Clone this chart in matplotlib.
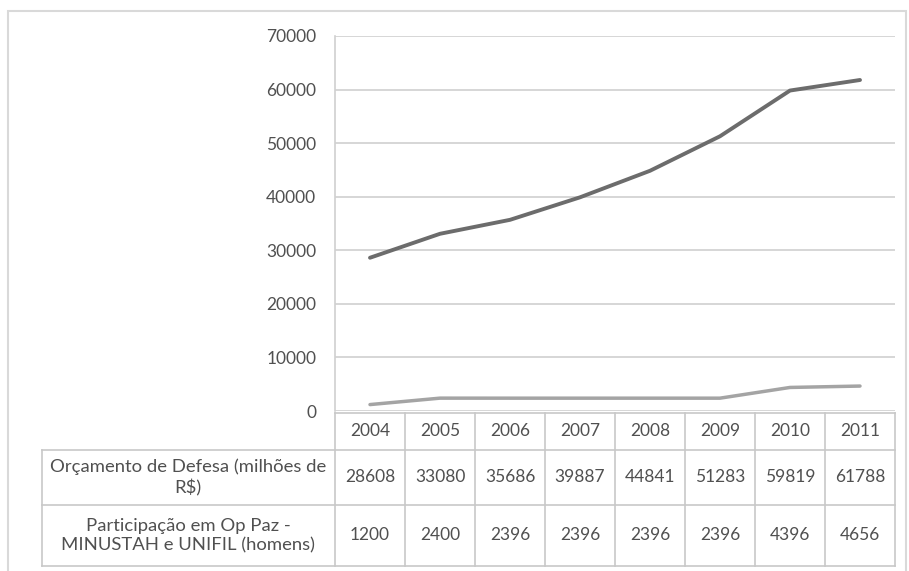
import matplotlib.pyplot as plt
from matplotlib.patches import Rectangle
from matplotlib.transforms import blended_transform_factory

# dados
anos = ['2004', '2005', '2006', '2007', '2008', '2009', '2010', '2011']
orcamento = [28608, 33080, 35686, 39887, 44841, 51283, 59819, 61788]
participacao = [1200, 2400, 2396, 2396, 2396, 2396, 4396, 4656]
rotulos = ['Orçamento de Defesa (milhões de\nR$)',
           'Participação em Op Paz -\nMINUSTAH e UNIFIL (homens)']

plt.rcParams['font.family'] = ['Lato', 'DejaVu Sans']
cor_txt = '#505050'
cor_grade = '#d0d0d0'
W, H = 909, 571

fig = plt.figure(figsize=(W / 100, H / 100), dpi=100)
ax = fig.add_axes([335 / W, (H - 411) / H, 560 / W, 375 / H])

x = list(range(len(anos)))
ax.plot(x, orcamento, c='#6c6c6c', lw=2.8, solid_capstyle='round', zorder=3)
ax.plot(x, participacao, c='#a4a4a4', lw=2.5, solid_capstyle='round', zorder=3)

ax.set_xlim(-0.5, len(anos) - 0.5)
ax.set_ylim(0, 70000)
ax.set_yticks(range(0, 70001, 10000))
ax.tick_params(axis='y', length=0, pad=13.5, labelsize=12.5, labelcolor=cor_txt)
ax.set_xticks([])
ax.grid(axis='y', color=cor_grade, lw=1.2)
ax.set_axisbelow(True)
for s in ['top', 'right', 'bottom']:
    ax.spines[s].set_visible(False)
ax.spines['left'].set_color(cor_grade)
ax.spines['left'].set_linewidth(1.2)

# tabela de dados abaixo do grafico
tr = blended_transform_factory(ax.transData, fig.transFigure)
fy = lambda py: (H - py) / H
fx = lambda px: px / W
y_cab, y_l1, y_l2, y_fim = 413, 450, 505, 566
linha = dict(color='#c8c8c8', lw=1.2, clip_on=False)

# linhas horizontais
ax.plot([-0.5, len(anos) - 0.5], [fy(y_cab)] * 2, transform=tr, **linha)
for py in [y_l1, y_l2, y_fim]:
    fig.add_artist(plt.Line2D([fx(42), fx(895)], [fy(py)] * 2, **linha))
# linhas verticais
for i in range(len(anos) + 1):
    ax.plot([i - 0.5] * 2, [fy(y_cab), fy(y_fim)], transform=tr, **linha)
fig.add_artist(plt.Line2D([fx(42)] * 2, [fy(y_l1), fy(y_fim)], **linha))

fs = 12.5
for i, a in enumerate(anos):
    ax.text(i, fy((y_cab + y_l1) / 2), a, transform=tr, ha='center', va='center',
            fontsize=fs, color=cor_txt)
    ax.text(i, fy((y_l1 + y_l2) / 2), str(orcamento[i]), transform=tr, ha='center',
            va='center', fontsize=fs, color=cor_txt)
    ax.text(i, fy((y_l2 + y_fim) / 2), str(participacao[i]), transform=tr, ha='center',
            va='center', fontsize=fs, color=cor_txt)

for r, (p0, p1) in zip(rotulos, [(y_l1, y_l2), (y_l2, y_fim)]):
    fig.text(fx(188), fy((p0 + p1) / 2), r, ha='center', va='center',
             fontsize=13.3, color=cor_txt, linespacing=1.25)

# moldura externa
fig.add_artist(Rectangle((fx(8), fy(575)), fx(906) - fx(8), fy(11) - fy(575),
                         transform=fig.transFigure, fill=False,
                         ec='#d9d9d9', lw=1.5))

fig.savefig('out.png', dpi=100)
